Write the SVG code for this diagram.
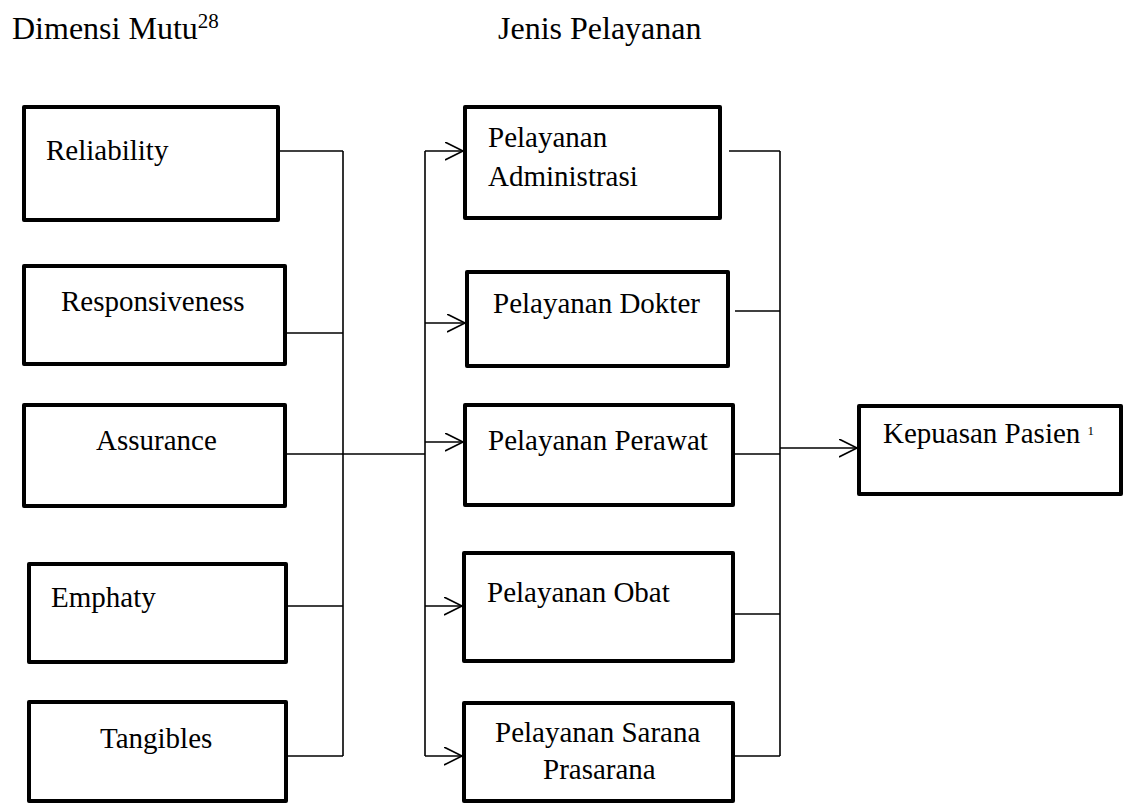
<svg xmlns="http://www.w3.org/2000/svg" width="1124" height="805" viewBox="0 0 1124 805">
<defs>
<style>
.box{fill:#fff;stroke:#000;stroke-width:4;stroke-linejoin:round}
.t{font-family:"Liberation Serif","Times New Roman",serif;font-size:29px;fill:#000}
.h{font-family:"Liberation Serif","Times New Roman",serif;font-size:32px;fill:#000}
.c{fill:none;stroke:#000;stroke-width:1.6}
.a{fill:none;stroke:#000;stroke-width:1.6;marker-end:url(#arr)}
</style>
<marker id="arr" viewBox="0 0 20 20" refX="18" refY="9" markerWidth="20" markerHeight="20" markerUnits="userSpaceOnUse" orient="auto">
<path d="M0,0 L18,9 L0,18" fill="none" stroke="#000" stroke-width="1.6"/>
</marker>
</defs>
<rect width="1124" height="805" fill="#fff"/>
<g id="headers">
<text class="h" x="12" y="39">Dimensi Mutu<tspan font-size="21" dy="-11">28</tspan></text>
<text class="h" x="498" y="39">Jenis Pelayanan</text>
</g>
<g id="connectors">
<line class="c" x1="343" y1="151" x2="343" y2="756"/>
<line class="c" x1="280" y1="151" x2="343" y2="151"/>
<line class="c" x1="287" y1="333" x2="343" y2="333"/>
<line class="c" x1="287" y1="454" x2="425" y2="454"/>
<line class="c" x1="288" y1="606" x2="343" y2="606"/>
<line class="c" x1="288" y1="756" x2="343" y2="756"/>
<line class="c" x1="425" y1="151" x2="425" y2="756"/>
<line class="a" x1="425" y1="151" x2="463" y2="151"/>
<line class="a" x1="425" y1="323" x2="465" y2="323"/>
<line class="a" x1="425" y1="442" x2="463" y2="442"/>
<line class="a" x1="425" y1="606" x2="462" y2="606"/>
<line class="a" x1="425" y1="756" x2="462" y2="756"/>
<line class="c" x1="729" y1="151" x2="780" y2="151"/>
<line class="c" x1="735" y1="311" x2="780" y2="311"/>
<line class="c" x1="735" y1="454" x2="780" y2="454"/>
<line class="c" x1="735" y1="614" x2="780" y2="614"/>
<line class="c" x1="735" y1="756" x2="780" y2="756"/>
<line class="c" x1="780" y1="151" x2="780" y2="756"/>
<line class="a" x1="780" y1="448" x2="857" y2="448"/>
</g>
<g id="reliability"><rect class="box" x="24" y="107" width="254" height="113"/><text class="t" x="46" y="160">Reliability</text></g>
<g id="responsiveness"><rect class="box" x="24" y="266" width="261" height="98"/><text class="t" x="61" y="311">Responsiveness</text></g>
<g id="assurance"><rect class="box" x="24" y="405" width="261" height="101"/><text class="t" x="96" y="450">Assurance</text></g>
<g id="emphaty"><rect class="box" x="29" y="564" width="257" height="98"/><text class="t" x="51" y="607">Emphaty</text></g>
<g id="tangibles"><rect class="box" x="29" y="702" width="257" height="99"/><text class="t" x="100" y="748">Tangibles</text></g>
<g id="administrasi"><rect class="box" x="465" y="107" width="255" height="111"/><text class="t" x="488" y="147">Pelayanan</text><text class="t" x="488" y="186">Administrasi</text></g>
<g id="dokter"><rect class="box" x="467" y="272" width="261" height="94"/><text class="t" x="493" y="313">Pelayanan Dokter</text></g>
<g id="perawat"><rect class="box" x="465" y="405" width="268" height="100"/><text class="t" x="488" y="450">Pelayanan Perawat</text></g>
<g id="obat"><rect class="box" x="464" y="553" width="269" height="108"/><text class="t" x="487" y="602">Pelayanan Obat</text></g>
<g id="sarana"><rect class="box" x="464" y="703" width="269" height="98"/><text class="t" x="495" y="742">Pelayanan Sarana</text><text class="t" x="543" y="779">Prasarana</text></g>
<g id="kepuasan"><rect class="box" x="859" y="406" width="262" height="88"/><text class="t" x="883" y="443">Kepuasan Pasien <tspan font-size="13" dy="-8">1</tspan></text></g>
</svg>
